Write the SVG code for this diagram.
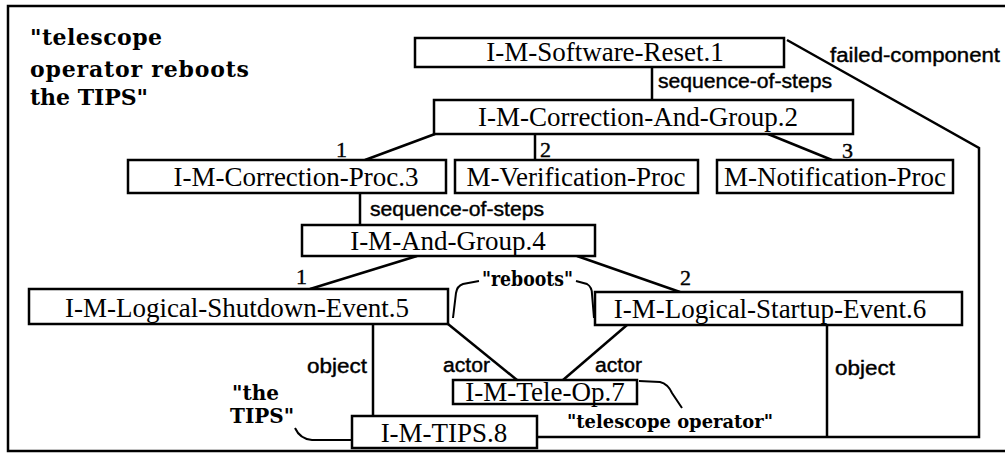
<svg xmlns="http://www.w3.org/2000/svg" width="1005" height="456" viewBox="0 0 1005 456">
<style>
.box{fill:#fff;stroke:#000;stroke-width:2.5}
.nt{font-family:"Liberation Serif","Times New Roman",serif;font-size:27px;fill:#000;text-anchor:middle}
.lb{font-family:"Liberation Sans",Arial,sans-serif;font-size:20px;fill:#000;stroke:#000;stroke-width:0.4}
.num{font-family:"Liberation Serif","Times New Roman",serif;font-size:22px;fill:#000;stroke:#000;stroke-width:0.4}
.an{font-family:"DejaVu Serif",serif;font-weight:bold;fill:#000}
.cn{fill:none;stroke:#000;stroke-width:2.5}
.br{fill:none;stroke:#000;stroke-width:2}
</style>
<rect x="0" y="0" width="1005" height="456" fill="#fff"/>
<rect x="8" y="6" width="1010" height="445" fill="none" stroke="#000" stroke-width="2.5"/>

<g id="title">
<text class="an" font-size="22" x="30" y="45" textLength="132" lengthAdjust="spacing">"telescope</text>
<text class="an" font-size="22" x="30" y="77" textLength="219" lengthAdjust="spacing">operator  reboots</text>
<text class="an" font-size="22" x="30" y="105" textLength="118" lengthAdjust="spacing">the  TIPS"</text>
</g>

<g id="connectors">
<path class="cn" d="M652,67 V100"/>
<path class="cn" d="M435,134 L365,160"/>
<path class="cn" d="M535,134 V160"/>
<path class="cn" d="M768,134 L832,160"/>
<path class="cn" d="M360,193 V225"/>
<path class="cn" d="M417,256 L310,289"/>
<path class="cn" d="M577,256 L680,292"/>
<path class="cn" d="M448,324 L517,380"/>
<path class="cn" d="M627,325 L563,380"/>
<path class="cn" d="M373,324 V416"/>
<path class="cn" d="M827,325 V437"/>
<path class="cn" d="M537,437 H979 V148 L787,40"/>
<text class="lb" x="658" y="88" textLength="174" lengthAdjust="spacingAndGlyphs">sequence-of-steps</text>
<text class="lb" x="830" y="62" textLength="170" lengthAdjust="spacingAndGlyphs">failed-component</text>
<text class="num" x="336" y="157">1</text>
<text class="num" x="540" y="157">2</text>
<text class="num" x="842" y="158">3</text>
<text class="lb" x="370" y="216" textLength="174" lengthAdjust="spacingAndGlyphs">sequence-of-steps</text>
<text class="num" x="296" y="284">1</text>
<text class="num" x="680" y="285">2</text>
<text class="lb" x="307" y="373" textLength="60" lengthAdjust="spacingAndGlyphs">object</text>
<text class="lb" x="835" y="375" textLength="60" lengthAdjust="spacingAndGlyphs">object</text>
<text class="lb" x="443" y="372" textLength="47" lengthAdjust="spacingAndGlyphs">actor</text>
<text class="lb" x="595" y="372" textLength="47" lengthAdjust="spacingAndGlyphs">actor</text>
</g>

<g id="n1"><rect class="box" x="415" y="38" width="369" height="29"/><text class="nt" x="605" y="61">I-M-Software-Reset.1</text></g>
<g id="n2"><rect class="box" x="434" y="100" width="419" height="34"/><text class="nt" x="638" y="126">I-M-Correction-And-Group.2</text></g>
<g id="n3"><rect class="box" x="128" y="160" width="318" height="33"/><text class="nt" x="296" y="186">I-M-Correction-Proc.3</text></g>
<g id="nV"><rect class="box" x="455" y="160" width="243" height="33"/><text class="nt" x="576" y="186">M-Verification-Proc</text></g>
<g id="nN"><rect class="box" x="717" y="160" width="236" height="33"/><text class="nt" x="835" y="186">M-Notification-Proc</text></g>
<g id="n4"><rect class="box" x="302" y="225" width="293" height="31"/><text class="nt" x="448" y="250">I-M-And-Group.4</text></g>
<g id="n5"><rect class="box" x="29" y="289" width="419" height="35"/><text class="nt" x="237" y="317">I-M-Logical-Shutdown-Event.5</text></g>
<g id="n6"><rect class="box" x="595" y="292" width="367" height="33"/><text class="nt" x="770" y="318">I-M-Logical-Startup-Event.6</text></g>
<g id="n7"><rect class="box" x="453" y="380" width="184" height="24"/><text class="nt" x="545" y="401">I-M-Tele-Op.7</text></g>
<g id="n8"><rect class="box" x="352" y="416" width="185" height="32"/><text class="nt" x="444" y="442">I-M-TIPS.8</text></g>

<g id="ann-reboots">
<text class="an" font-size="20" x="482" y="286" textLength="91" lengthAdjust="spacingAndGlyphs">"reboots"</text>
<path class="br" d="M479,281 L463,284 Q457,286 456,293 L453,318"/>
<path class="br" d="M576,281 L587,284 Q592,287 592,294 L594,318"/>
</g>
<g id="ann-tips">
<text class="an" font-size="20" x="232" y="400">"the</text>
<text class="an" font-size="20" x="230" y="423">TIPS"</text>
<path class="br" d="M295,428 Q300,439 312,440 L352,440"/>
</g>
<g id="ann-teleop">
<text class="an" font-size="19" x="567" y="428" textLength="206" lengthAdjust="spacingAndGlyphs">"telescope operator"</text>
<path class="br" d="M639,381 L660,382 Q668,384 672,393 L682,408"/>
</g>
</svg>
